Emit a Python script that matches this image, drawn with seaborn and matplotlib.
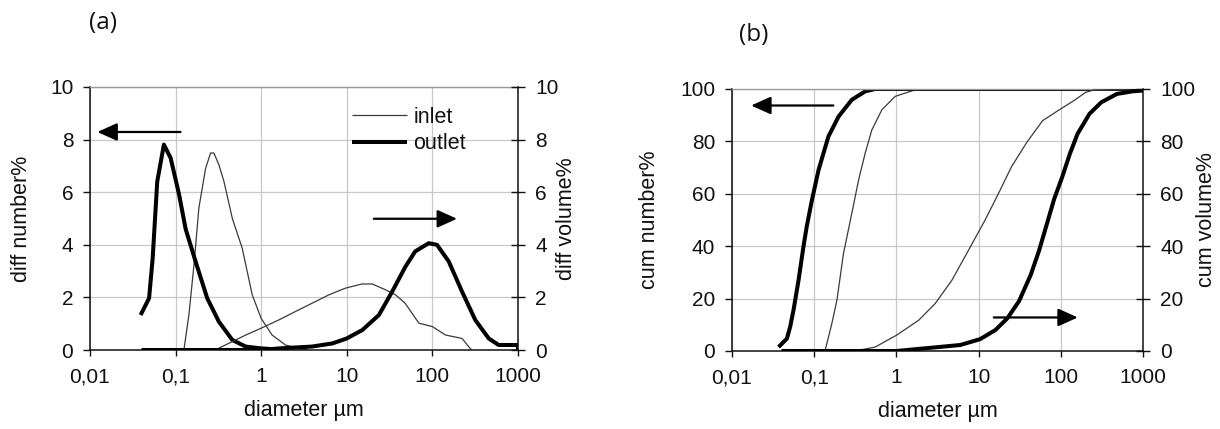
import numpy as np
import pandas as pd
import matplotlib
matplotlib.use('Agg')
import matplotlib.pyplot as plt
from matplotlib.ticker import FixedLocator, FixedFormatter, NullLocator
import seaborn as sns

# ---------------- data ----------------
# panel (a): differential distributions
a_num_in_x = [0.125, 0.143, 0.164, 0.187, 0.224, 0.256, 0.28, 0.32, 0.367, 0.46, 0.6, 0.785, 1.0, 1.34, 1.92, 2.75, 3.5]
a_num_in_y = [0.0, 1.33, 3.24, 5.4, 6.9, 7.49, 7.49, 7.05, 6.41, 5.0, 3.87, 2.1, 1.2, 0.57, 0.19, 0.06, 0.0]
a_num_out_x = [0.039, 0.049, 0.054, 0.061, 0.073, 0.0875, 0.11, 0.131, 0.171, 0.234, 0.32, 0.46, 0.66, 1.0, 2.0]
a_num_out_y = [1.33, 1.97, 3.5, 6.4, 7.81, 7.3, 5.9, 4.6, 3.37, 1.97, 1.08, 0.38, 0.13, 0.06, 0.0]
a_vol_in_x = [0.29, 0.46, 0.66, 1.0, 1.6, 2.5, 3.94, 6.2, 9.6, 15, 19.8, 28.3, 37, 48, 69.5, 100, 142, 222, 276, 290]
a_vol_in_y = [0.0, 0.32, 0.57, 0.83, 1.14, 1.46, 1.78, 2.1, 2.35, 2.51, 2.51, 2.29, 2.1, 1.78, 1.02, 0.89, 0.57, 0.44, 0.06, 0.0]
a_vol_out_x = [0.04, 1.0, 1.6, 3.9, 6.8, 10, 15.2, 23.7, 33.9, 48.4, 63, 90.5, 113, 155, 222, 317, 455, 594, 1000, 1000]
a_vol_out_y = [0.0, 0.0, 0.06, 0.13, 0.25, 0.44, 0.76, 1.33, 2.22, 3.17, 3.75, 4.06, 4.0, 3.37, 2.22, 1.14, 0.44, 0.19, 0.19, 0.0]

# panel (b): cumulative distributions
b_num_in_x = [0.136, 0.164, 0.189, 0.227, 0.287, 0.347, 0.417, 0.503, 0.667, 0.968, 1.7, 1000]
b_num_in_y = [0.3, 10.5, 19.4, 37.2, 52.6, 65.3, 75.5, 84.4, 92.1, 97.2, 99.7, 100]
b_num_out_x = [0.0368, 0.0465, 0.051, 0.056, 0.0645, 0.074, 0.081, 0.094, 0.113, 0.149, 0.198, 0.287, 0.417, 0.55, 1000]
b_num_out_y = [1.5, 4.7, 9.2, 15.6, 27, 39.8, 47.4, 57.7, 69.1, 81.9, 89.5, 95.9, 99.1, 100, 100]
b_vol_in_x = [0.35, 0.55, 1.0, 1.86, 2.96, 4.73, 7.55, 12, 17.5, 25, 38.7, 60, 93, 145, 200, 250, 1000]
b_vol_in_y = [0.3, 1.5, 6, 11.7, 18.1, 27, 38.5, 50, 60.2, 70.2, 79.7, 87.9, 91.8, 95.6, 98.7, 99.6, 100]
b_vol_out_x = [0.04, 1.0, 3.5, 6, 10.4, 16, 22.4, 31, 43, 54, 67, 83, 104, 129, 160, 223, 310, 480, 740, 1000]
b_vol_out_y = [0.0, 0.0, 1.6, 2.3, 4.5, 8.0, 12.5, 19.0, 29.0, 38.0, 48.0, 58.0, 66.4, 75.3, 82.9, 90.5, 94.9, 98.1, 99.1, 99.4]

x_ticks = [0.01, 0.1, 1, 10, 100, 1000]
x_tick_labels = ['0,01', '0,1', '1', '10', '100', '1000']
a_y_ticks = [0, 2, 4, 6, 8, 10]
b_y_ticks = [0, 20, 40, 60, 80, 100]
series_names = ['inlet', 'outlet']

# annotation arrows (data coordinates): (x_start, x_end, y)
a_arrow_left = (0.114, 0.0122, 8.29)
a_arrow_right = (20.7, 194, 4.99)
b_arrow_left = (0.171, 0.0171, 93.7)
b_arrow_right = (15.3, 161, 12.8)

# ---------------- style ----------------
sns.set_theme(style='ticks')
plt.rcParams['font.family'] = ['Liberation Sans', 'DejaVu Sans']
plt.rcParams['axes.unicode_minus'] = False

W, H = 1220, 429
fig = plt.figure(figsize=(W / 100, H / 100), dpi=100)
fig.patch.set_facecolor('white')

TICK_FS = 15
LABEL_FS = 15.5
THIN = dict(color='#3a3a3a', linewidth=0.9)
THICK = dict(color='black', linewidth=2.9)
GRID_C = '#c8c8c8'


def make_axes(rect, ylim, yticks):
    ax = fig.add_axes(rect)
    ax.set_xscale('log')
    ax.set_xlim(0.01, 1000)
    ax.set_ylim(*ylim)
    tw = ax.twinx()
    tw.set_ylim(*ylim)
    for a in (ax, tw):
        a.xaxis.set_major_locator(FixedLocator(x_ticks))
        a.xaxis.set_minor_locator(NullLocator())
        a.yaxis.set_major_locator(FixedLocator(yticks))
        a.yaxis.set_minor_locator(NullLocator())
        a.set_facecolor('none')
    ax.xaxis.set_major_formatter(FixedFormatter(x_tick_labels))
    ax.yaxis.set_major_formatter(FixedFormatter([str(v) for v in yticks]))
    tw.yaxis.set_major_formatter(FixedFormatter([str(v) for v in yticks]))
    ax.grid(True, which='major', color=GRID_C, linewidth=0.9)
    ax.set_axisbelow(True)
    ax.spines['top'].set_visible(True)
    ax.spines['top'].set_color('#9a9a9a')
    ax.spines['top'].set_linewidth(1.0)
    ax.spines['right'].set_visible(False)
    for s in ('left', 'bottom'):
        ax.spines[s].set_color('#111111')
        ax.spines[s].set_linewidth(1.1)
    for s in ('top', 'left', 'bottom'):
        tw.spines[s].set_visible(False)
    tw.spines['right'].set_visible(True)
    tw.spines['right'].set_color('#111111')
    tw.spines['right'].set_linewidth(1.1)
    ax.tick_params(axis='x', direction='out', length=4.5, width=1.0, pad=8,
                   labelsize=TICK_FS, colors='#111111')
    ax.tick_params(axis='y', direction='out', length=5, width=1.0, pad=7,
                   labelsize=TICK_FS, colors='#111111')
    tw.tick_params(axis='y', direction='inout', length=9.5, width=1.0, pad=7.5,
                   labelsize=TICK_FS, colors='#111111')
    tw.tick_params(axis='x', bottom=False, top=False, labelbottom=False, labeltop=False)
    return ax, tw


def line(ax, xs, ys, style):
    df = pd.DataFrame({'diameter': xs, 'value': ys})
    sns.lineplot(data=df, x='diameter', y='value', ax=ax, sort=False,
                 estimator=None, legend=False, **style)
    ln = ax.lines[-1]
    ln.set_solid_capstyle('butt')
    ln.set_solid_joinstyle('round')
    return ln


def arrow(ax, spec):
    x0, x1, y = spec
    ax.annotate('', xy=(x1, y), xytext=(x0, y),
                arrowprops=dict(arrowstyle='-|>,head_length=0.6,head_width=0.27',
                                mutation_scale=20, color='black', lw=1.6,
                                shrinkA=0, shrinkB=0))


# ---------------- panel (a) ----------------
axa, twa = make_axes([90 / W, 1 - 350 / H, 428 / W, 263 / H], (0, 10), a_y_ticks)
l_in = line(axa, a_num_in_x, a_num_in_y, THIN)
l_out = line(axa, a_num_out_x, a_num_out_y, THICK)
line(twa, a_vol_in_x, a_vol_in_y, THIN)
line(twa, a_vol_out_x, a_vol_out_y, THICK)
arrow(twa, a_arrow_left)
arrow(twa, a_arrow_right)
axa.set_xlabel('diameter µm', fontsize=LABEL_FS, color='#111111')
axa.set_ylabel('diff number%', fontsize=LABEL_FS, color='#111111')
twa.set_ylabel('diff volume%', fontsize=LABEL_FS, color='#111111')
axa.xaxis.set_label_coords(0.5, -0.19)
axa.yaxis.set_label_coords(-0.135, 0.5)
twa.yaxis.set_label_coords(1.088, 0.5)
twa.set_xlabel('')
leg = twa.legend(handles=[l_in, l_out], labels=series_names,
                 loc='upper left', bbox_to_anchor=(352 / W, 1 - 107 / H),
                 bbox_transform=fig.transFigure, frameon=False, borderpad=0,
                 borderaxespad=0, handlelength=2.55, handletextpad=0.3,
                 labelspacing=0.25, fontsize=LABEL_FS)
for t in leg.get_texts():
    t.set_color('#111111')

# ---------------- panel (b) ----------------
axb, twb = make_axes([732 / W, 1 - 351 / H, 411 / W, 262 / H], (0, 100), b_y_ticks)
line(axb, b_num_in_x, b_num_in_y, THIN)
line(axb, b_num_out_x, b_num_out_y, THICK)
line(twb, b_vol_in_x, b_vol_in_y, THIN)
line(twb, b_vol_out_x, b_vol_out_y, THICK)
arrow(twb, b_arrow_left)
arrow(twb, b_arrow_right)
axb.set_xlabel('diameter µm', fontsize=LABEL_FS, color='#111111')
axb.set_ylabel('cum number%', fontsize=LABEL_FS, color='#111111')
twb.set_ylabel('cum volume%', fontsize=LABEL_FS, color='#111111')
axb.xaxis.set_label_coords(0.5, -0.19)
axb.yaxis.set_label_coords(-0.175, 0.5)
twb.yaxis.set_label_coords(1.128, 0.5)
twb.set_xlabel('')

# ---------------- panel letters ----------------
fig.text(103 / W, 1 - 23 / H, '(a)', ha='center', va='center', fontsize=17.5,
         family=['Open Sans', 'DejaVu Sans'], color='#111111')
fig.text(754 / W, 1 - 35 / H, '(b)', ha='center', va='center', fontsize=17.5,
         family=['Open Sans', 'DejaVu Sans'], color='#111111')

fig.savefig('out.png', dpi=100, facecolor='white')
